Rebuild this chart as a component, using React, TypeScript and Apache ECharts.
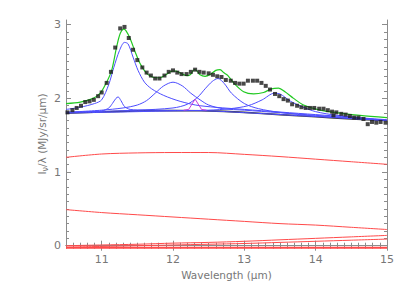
import React, { useEffect, useRef } from "react";
import * as echarts from "echarts";

// Observed spectrum (black squares)
const obsWave = [10.52,10.59,10.65,10.71,10.77,10.83,10.89,10.95,11.00,11.07,11.13,11.19,11.26,11.32,11.38,11.44,11.50,11.57,11.63,11.69,11.75,11.81,11.88,11.94,12.00,12.06,12.12,12.19,12.25,12.31,12.37,12.43,12.50,12.56,12.62,12.68,12.74,12.81,12.87,12.93,12.99,13.05,13.12,13.18,13.24,13.30,13.36,13.43,13.49,13.55,13.61,13.67,13.74,13.80,13.86,13.92,13.98,14.05,14.11,14.17,14.23,14.25,14.29,14.36,14.42,14.48,14.54,14.60,14.67,14.73,14.79,14.85,14.91,14.98];
const obsFlux = [1.81,1.84,1.87,1.90,1.95,1.96,1.98,2.03,2.08,2.21,2.36,2.69,2.95,2.97,2.82,2.66,2.52,2.42,2.35,2.31,2.27,2.27,2.31,2.36,2.38,2.35,2.33,2.33,2.36,2.39,2.36,2.35,2.34,2.32,2.30,2.29,2.25,2.24,2.21,2.20,2.20,2.24,2.24,2.24,2.21,2.17,2.12,2.06,2.03,1.99,1.97,1.92,1.90,1.88,1.87,1.87,1.87,1.86,1.86,1.84,1.82,1.77,1.81,1.79,1.78,1.76,1.74,1.74,1.72,1.65,1.68,1.67,1.68,1.67];

// Total model (green)
const modelWave = [10.5,10.7,10.88,10.98,11.07,11.14,11.21,11.26,11.31,11.34,11.40,11.47,11.54,11.63,11.71,11.76,11.82,11.90,11.99,12.04,12.13,12.20,12.24,12.30,12.34,12.38,12.45,12.53,12.60,12.66,12.71,12.77,12.85,12.99,13.13,13.27,13.38,13.48,13.57,13.69,13.83,14.06,14.34,14.62,15.0];
const modelFlux = [1.93,1.95,2.00,2.07,2.22,2.38,2.70,2.88,2.94,2.92,2.81,2.63,2.47,2.34,2.29,2.28,2.28,2.32,2.37,2.37,2.33,2.31,2.32,2.39,2.37,2.32,2.30,2.33,2.38,2.39,2.35,2.31,2.21,2.09,2.06,2.08,2.13,2.14,2.09,2.00,1.91,1.84,1.80,1.77,1.74];

// Total continuum (dark)
const contWave = [10.5,11,11.5,12,12.5,13,13.5,14,14.5,15];
const contFlux = [1.80,1.815,1.83,1.835,1.83,1.81,1.78,1.75,1.72,1.70];

// Dust features on continuum (blue)
const f1Wave = [10.5,11.0,11.1,11.15,11.2,11.23,11.27,11.32,11.4,11.6,12.5,13.5,15];
const f1Flux = [1.81,1.83,1.87,1.93,2.00,2.02,1.97,1.89,1.85,1.84,1.83,1.78,1.70];
const f2Wave = [10.5,10.7,10.9,11.0,11.1,11.17,11.25,11.32,11.37,11.44,11.51,11.6,11.7,11.87,12.1,12.38,13,14,15];
const f2Flux = [1.85,1.88,1.93,1.98,2.19,2.42,2.65,2.76,2.74,2.56,2.38,2.22,2.13,2.04,1.96,1.90,1.85,1.78,1.71];
const f3Wave = [10.5,11.0,11.3,11.5,11.63,11.75,11.87,12.0,12.13,12.25,12.38,12.5,12.7,13.0,14,15];
const f3Flux = [1.81,1.84,1.87,1.91,1.97,2.07,2.17,2.22,2.17,2.07,1.98,1.91,1.86,1.84,1.77,1.70];
const f4Wave = [10.5,11.5,12.0,12.2,12.35,12.45,12.55,12.63,12.72,12.82,13.0,13.2,13.5,14,15];
const f4Flux = [1.81,1.84,1.87,1.92,2.02,2.13,2.23,2.27,2.20,2.07,1.93,1.86,1.81,1.76,1.70];
const f5Wave = [10.5,12,12.5,12.8,13.05,13.25,13.42,13.5,13.65,13.8,14.0,14.3,15];
const f5Flux = [1.80,1.83,1.84,1.86,1.90,1.98,2.07,2.06,1.96,1.89,1.82,1.77,1.70];

// H2 line (magenta)
const h2Wave = [12.15,12.22,12.31,12.40,12.47];
const h2Flux = [1.84,1.85,1.99,1.85,1.84];

// Continuum components (red)
const r1Wave = [10.5,11,11.5,12,12.5,13,13.5,14,14.5,15];
const r1Flux = [1.20,1.245,1.26,1.265,1.265,1.24,1.21,1.175,1.14,1.105];
const r2Flux = [0.49,0.45,0.42,0.39,0.36,0.33,0.30,0.28,0.25,0.22];
const r3Flux = [0.0,0.01,0.02,0.035,0.045,0.06,0.08,0.10,0.12,0.14];
const r4Flux = [-0.02,-0.01,0.0,0.01,0.02,0.03,0.045,0.06,0.075,0.09];
const r5Flux = [-0.027,-0.027,-0.027,-0.027,-0.027,-0.027,-0.027,-0.027,-0.027,-0.027];

const xTicks = [11, 12, 13, 14, 15];
const yTicks = [0, 1, 2, 3];
const xMin = 10.5, xMax = 15;
const yMin = -0.031, yMax = 3.064;

const minorX: number[] = [];
for (let i = 105; i <= 150; i++) minorX.push(i / 10);
const minorY: number[] = [];
for (let i = 0; i <= 30; i++) minorY.push(i / 10);

const AX = "#8c8c8c";
const TXT = "#777777";
const FONT = "DejaVu Sans";

function pairs(xs: number[], ys: number[]) {
  return xs.map((x, i) => [x, ys[i]]);
}

function line(xs: number[], ys: number[], color: string, width: number, smooth: number | boolean, z: number) {
  return {
    type: "line",
    data: pairs(xs, ys),
    symbol: "none",
    showSymbol: false,
    smooth,
    lineStyle: { color, width },
    z,
    silent: true,
  };
}

function xAxisDef(pos: "bottom" | "top", ticks: number[], len: number, main: boolean, labels: boolean) {
  return {
    type: "value",
    position: pos,
    min: xMin,
    max: xMax,
    axisLine: { show: main, lineStyle: { color: AX, width: 1 } },
    axisTick: { show: true, inside: true, length: len, customValues: ticks, lineStyle: { color: AX, width: 1 } },
    axisLabel: labels
      ? { show: true, customValues: xTicks, color: TXT, fontFamily: FONT, fontSize: 11, margin: 6 }
      : { show: false },
    splitLine: { show: false },
    name: labels ? "Wavelength (\u03bcm)" : "",
    nameLocation: "middle",
    nameGap: 21,
    nameMoveOverlap: false,
    nameTextStyle: { color: TXT, fontFamily: FONT, fontSize: 10.5 },
  };
}

function yAxisDef(pos: "left" | "right", ticks: number[], len: number, main: boolean, labels: boolean) {
  return {
    type: "value",
    position: pos,
    min: yMin,
    max: yMax,
    axisLine: { show: main, lineStyle: { color: AX, width: 1 } },
    axisTick: { show: true, inside: true, length: len, customValues: ticks, lineStyle: { color: AX, width: 1 } },
    axisLabel: labels
      ? { show: true, customValues: yTicks, color: TXT, fontFamily: FONT, fontSize: 11, margin: 5 }
      : { show: false },
    splitLine: { show: false },
    name: labels ? "I{s|\u03bd}/\u03bb (MJy/sr/\u03bcm)" : "",
    nameLocation: "middle",
    nameGap: 17,
    nameMoveOverlap: false,
    nameTextStyle: {
      color: TXT,
      fontFamily: FONT,
      fontSize: 10.5,
      rich: { s: { fontSize: 8, color: TXT, fontFamily: FONT, padding: [6, 0, 0, 0] } },
    },
  };
}

export default function App() {
  const ref = useRef<HTMLDivElement>(null);
  useEffect(() => {
    document.body.style.margin = "0";
    if (!ref.current) return;
    const chart = echarts.init(ref.current, null, { renderer: "svg" });
    const RED = "#ff4a4a";
    const BLUE = "#4d4dff";
    chart.setOption({
      animation: false,
      backgroundColor: "#ffffff",
      grid: { left: 66, right: 20, top: 20, bottom: 43, containLabel: false },
      xAxis: [
        xAxisDef("bottom", xTicks, 5, true, true),
        xAxisDef("bottom", minorX, 3, false, false),
        xAxisDef("top", xTicks, 5, true, false),
        xAxisDef("top", minorX, 3, false, false),
      ],
      yAxis: [
        yAxisDef("left", yTicks, 5, true, true),
        yAxisDef("left", minorY, 3, false, false),
        yAxisDef("right", yTicks, 5, true, false),
        yAxisDef("right", minorY, 3, false, false),
      ],
      series: [
        line(r1Wave, r1Flux, RED, 1, 0.3, 2),
        line(r1Wave, r2Flux, RED, 1, 0.3, 2),
        line(r1Wave, r3Flux, RED, 1, 0.3, 2),
        line(r1Wave, r4Flux, RED, 1, 0.3, 2),
        line(r1Wave, r5Flux, RED, 2, false, 2),
        line(contWave, contFlux, "#3a3a3a", 1.6, 0.3, 3),
        line(f1Wave, f1Flux, BLUE, 1, 0.3, 4),
        line(f2Wave, f2Flux, BLUE, 1, 0.3, 4),
        line(f3Wave, f3Flux, BLUE, 1, 0.3, 4),
        line(f4Wave, f4Flux, BLUE, 1, 0.3, 4),
        line(f5Wave, f5Flux, BLUE, 1, 0.3, 4),
        line(h2Wave, h2Flux, "#c83cdc", 1, false, 5),
        line(modelWave, modelFlux, "#22c922", 1.2, 0.3, 6),
        {
          type: "scatter",
          data: pairs(obsWave, obsFlux),
          symbol: "rect",
          symbolSize: 4,
          itemStyle: { color: "#1a1a1a" },
          z: 7,
          silent: true,
        },
      ],
    });
    return () => chart.dispose();
  }, []);
  return <div ref={ref} style={{ width: 407, height: 291 }} />;
}
